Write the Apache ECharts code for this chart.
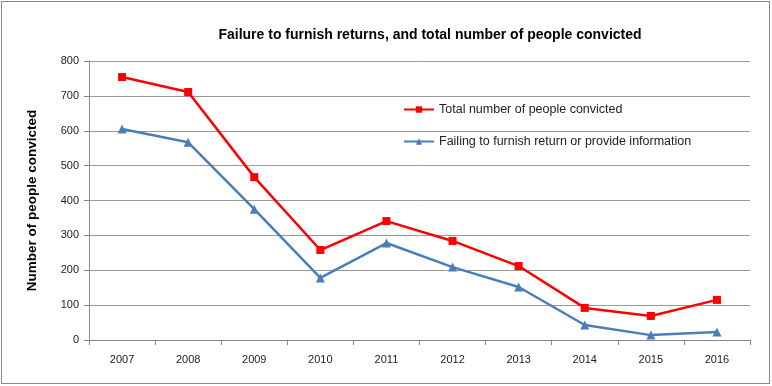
<!DOCTYPE html>
<html><head><meta charset="utf-8">
<script src="https://cdn.jsdelivr.net/npm/echarts@6/dist/echarts.min.js"></script>
<style>html,body{margin:0;padding:0;background:#fff}#c{width:772px;height:386px}
#frame{position:absolute;left:1px;top:1px;width:767px;height:381px;border:1px solid #888;pointer-events:none}</style>
</head><body><div id="c"></div><div id="frame"></div>
<script>
const years = ['2007','2008','2009','2010','2011','2012','2013','2014','2015','2016'];
const totalConvicted = [754, 711, 467, 258, 341, 284, 212, 92, 69, 115];
const failingToFurnish = [605, 567, 375, 178, 278, 209, 152, 43, 14, 23];
const yTicks = [0, 800, 100];

const chart = echarts.init(document.getElementById('c'));
const font = 'Liberation Sans, Arial, sans-serif';
chart.setOption({
  animation: false,
  title: {
    text: 'Failure to furnish returns, and total number of people convicted',
    left: 425, top: 23, textAlign: 'center',
    textStyle: {fontFamily: font, fontSize: 14, fontWeight: 'bold', color: '#000'}
  },
  grid: {left: 89, right: 22, top: 61, bottom: 46},
  legend: {
    orient: 'vertical', left: 398, top: 98, itemGap: 19,
    itemWidth: 30, itemHeight: 8,
    textStyle: {fontFamily: font, fontSize: 12.5, color: '#222'},
    data: ['Total number of people convicted', 'Failing to furnish return or provide information']
  },
  xAxis: {
    type: 'category', data: years, boundaryGap: true,
    axisLine: {lineStyle: {color: '#888', width: 1}},
    axisTick: {show: true, length: 5, lineStyle: {color: '#888'}},
    axisLabel: {fontFamily: font, fontSize: 11, color: '#222', margin: 14}
  },
  yAxis: {
    type: 'value', min: yTicks[0], max: yTicks[1], interval: yTicks[2],
    name: 'Number of people convicted', nameLocation: 'middle', nameGap: 50, nameRotate: 90,
    nameTextStyle: {fontFamily: font, fontSize: 13.5, fontWeight: 'bold', color: '#000'},
    axisLine: {show: true, lineStyle: {color: '#888'}},
    axisTick: {show: true, length: 5, lineStyle: {color: '#888'}},
    splitLine: {lineStyle: {color: '#999', width: 1}},
    axisLabel: {fontFamily: font, fontSize: 11, color: '#222', margin: 10}
  },
  series: [
    {name: 'Total number of people convicted', type: 'line', data: totalConvicted,
     symbol: 'rect', symbolSize: 8, color: '#ff0000',
     lineStyle: {width: 2.5, color: '#ff0000'}, itemStyle: {color: '#ff0000'}},
    {name: 'Failing to furnish return or provide information', type: 'line', data: failingToFurnish,
     symbol: 'triangle', symbolSize: 9, color: '#4a7ebb',
     lineStyle: {width: 2.5, color: '#4a7ebb'}, itemStyle: {color: '#4a7ebb'}}
  ]
});
</script></body></html>
